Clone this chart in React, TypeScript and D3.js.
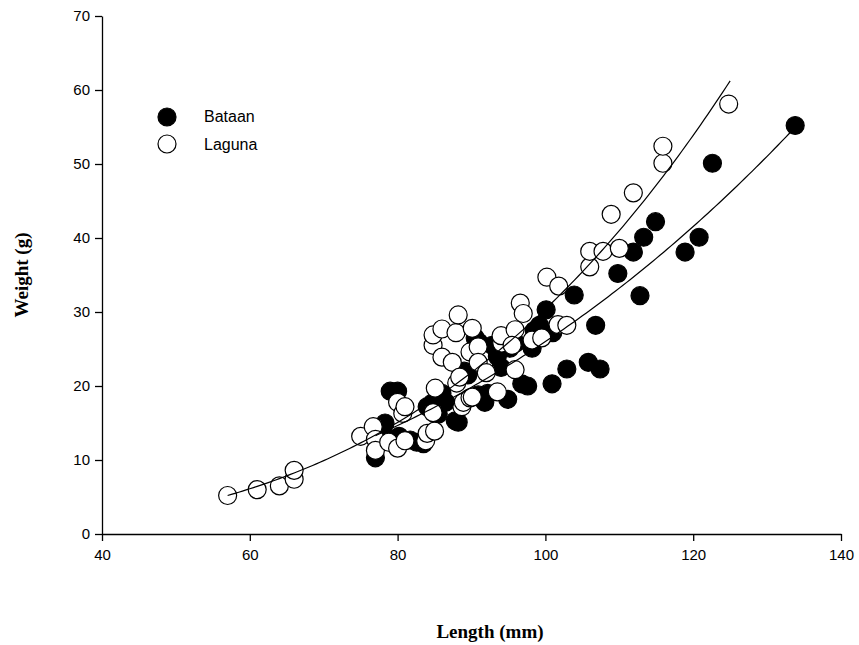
import { useEffect, useRef } from 'react'
import * as d3 from 'd3'

// length (mm), weight (g)
const bataan: [number, number][] = [
  [77, 10.3], [78, 14], [78.3, 15], [79, 19.3], [80, 19.3], [80.2, 13.2], [81.7, 12.7], [82.6, 12.4],
  [83.5, 12.2], [84, 17.2], [84.7, 17.7], [85.5, 16.2], [86, 19], [86.5, 17.8], [87.8, 15.3], [88.2, 15.1],
  [89, 22], [89.5, 21.5], [90.5, 26.5], [91, 25.9], [90.9, 18.8], [91.8, 17.8], [92.2, 19], [92.8, 25.5],
  [93.5, 24], [94, 22.5], [94.9, 18.2], [95.2, 25.1], [96, 25.8], [96.8, 20.3], [97.6, 20], [98.2, 25.1],
  [98.5, 27.5], [99.2, 28.2], [100.1, 30.3], [101, 27.2], [100.9, 20.3], [102.9, 22.3], [103.9, 32.3],
  [105.8, 23.2], [106.8, 28.2], [107.4, 22.3], [109.8, 35.2], [111.9, 38.1], [112.8, 32.2], [113.3, 40.1],
  [114.9, 42.2], [118.9, 38.1], [120.8, 40.1], [122.6, 50.1], [133.8, 55.2],
]

const laguna: [number, number][] = [
  [57, 5.2], [61, 6], [64, 6.5], [66, 7.4], [66, 8.6],
  [75, 13.2], [76.7, 14.5], [77, 12.8], [77, 11.3], [78.8, 12.4], [80, 11.6], [80, 17.8], [80.7, 16.3],
  [81, 17.2], [81, 12.6], [83.8, 12.6], [84, 13.6], [84.8, 16.4], [85, 13.9], [85.1, 19.7],
  [84.8, 25.5], [84.8, 26.9], [86, 27.7], [86, 23.9], [87.4, 23.2], [87.9, 27.2], [88.2, 29.6],
  [88, 20.4], [88.4, 21.2], [88.7, 17.2], [88.9, 17.8], [89.8, 18.4], [89.8, 24.6], [90.1, 27.8],
  [90.1, 18.5], [90.9, 25.3], [90.9, 23.2], [92, 21.8], [93.5, 19.2], [94.1, 25.8], [94, 26.8],
  [95.9, 27.6], [95.9, 22.2], [95.5, 25.5], [96.6, 31.2], [97, 29.8], [98.2, 26.2], [99.5, 26.5],
  [100.2, 34.7], [101.8, 33.5], [101.7, 28.3], [102.9, 28.2], [106, 36.1], [106, 38.2], [107.8, 38.2],
  [110, 38.6], [108.9, 43.2], [111.9, 46.1], [115.9, 50.1], [115.9, 52.4], [124.8, 58.1],
]

// power fits W = a * L^b, drawn over [from, to]
const fitBataan = { a: 1.884e-4, b: 2.57, from: 77, to: 134 }
const fitLaguna = { a: 1.595e-5, b: 3.14, from: 57, to: 125 }

const xTicks = [40, 60, 80, 100, 120, 140]
const yTicks = [0, 10, 20, 30, 40, 50, 60, 70]

const W = 859
const H = 645
const R = 9

export default function App() {
  const xAxisRef = useRef<SVGGElement>(null)
  const yAxisRef = useRef<SVGGElement>(null)

  const x = d3.scaleLinear().domain([40, 140]).range([102, 841])
  const y = d3.scaleLinear().domain([0, 70]).range([534, 16])

  useEffect(() => {
    const fmt = (g: any) => {
      g.select('.domain').attr('stroke', '#000').attr('stroke-width', 1.3)
      g.selectAll('.tick line').attr('stroke', '#000').attr('stroke-width', 1.3)
      g.selectAll('.tick text')
        .attr('font-family', 'Liberation Sans, Arial, sans-serif')
        .attr('font-size', 15)
        .attr('fill', '#000')
    }
    d3.select(xAxisRef.current!)
      .call(d3.axisBottom(x).tickValues(xTicks).tickSize(7).tickSizeOuter(0).tickPadding(8) as any)
      .call(fmt)
    d3.select(yAxisRef.current!)
      .call(d3.axisLeft(y).tickValues(yTicks).tickSize(7).tickSizeOuter(0).tickPadding(5) as any)
      .call(fmt)
  }, [])

  const curve = (f: { a: number; b: number; from: number; to: number }) => {
    const pts = d3.range(f.from, f.to + 0.001, 0.5).map((l) => [l, f.a * Math.pow(l, f.b)] as [number, number])
    return d3.line<[number, number]>().x((d) => x(d[0])).y((d) => y(d[1]))(pts) || ''
  }

  return (
    <svg width={W} height={H} style={{ position: 'absolute', left: 0, top: 0, background: '#fff' }}>
      <g ref={xAxisRef} transform={`translate(0,${y(0)})`} />
      <g ref={yAxisRef} transform={`translate(${x(40)},0)`} />

      {bataan.map((d, i) => (
        <circle key={'b' + i} cx={x(d[0])} cy={y(d[1])} r={R} fill="#000" stroke="#000" strokeWidth={1.2} />
      ))}
      {laguna.map((d, i) => (
        <circle key={'l' + i} cx={x(d[0])} cy={y(d[1])} r={R} fill="#fff" stroke="#000" strokeWidth={1.2} />
      ))}

      <path d={curve(fitLaguna)} fill="none" stroke="#000" strokeWidth={1.2} />
      <path d={curve(fitBataan)} fill="none" stroke="#000" strokeWidth={1.2} />

      <g fontFamily="Liberation Sans, Arial, sans-serif" fontSize={16}>
        <circle cx={167} cy={117} r={R} fill="#000" stroke="#000" strokeWidth={1.2} />
        <text x={204} y={122}>Bataan</text>
        <circle cx={167} cy={144} r={R} fill="#fff" stroke="#000" strokeWidth={1.2} />
        <text x={204} y={150}>Laguna</text>
      </g>

      <text
        x={490}
        y={638}
        textAnchor="middle"
        fontFamily="Liberation Serif, Times New Roman, serif"
        fontWeight="bold"
        fontSize={19}
      >
        Length (mm)
      </text>
      <text
        transform="translate(28,275) rotate(-90)"
        textAnchor="middle"
        fontFamily="Liberation Serif, Times New Roman, serif"
        fontWeight="bold"
        fontSize={19}
      >
        Weight (g)
      </text>
    </svg>
  )
}
